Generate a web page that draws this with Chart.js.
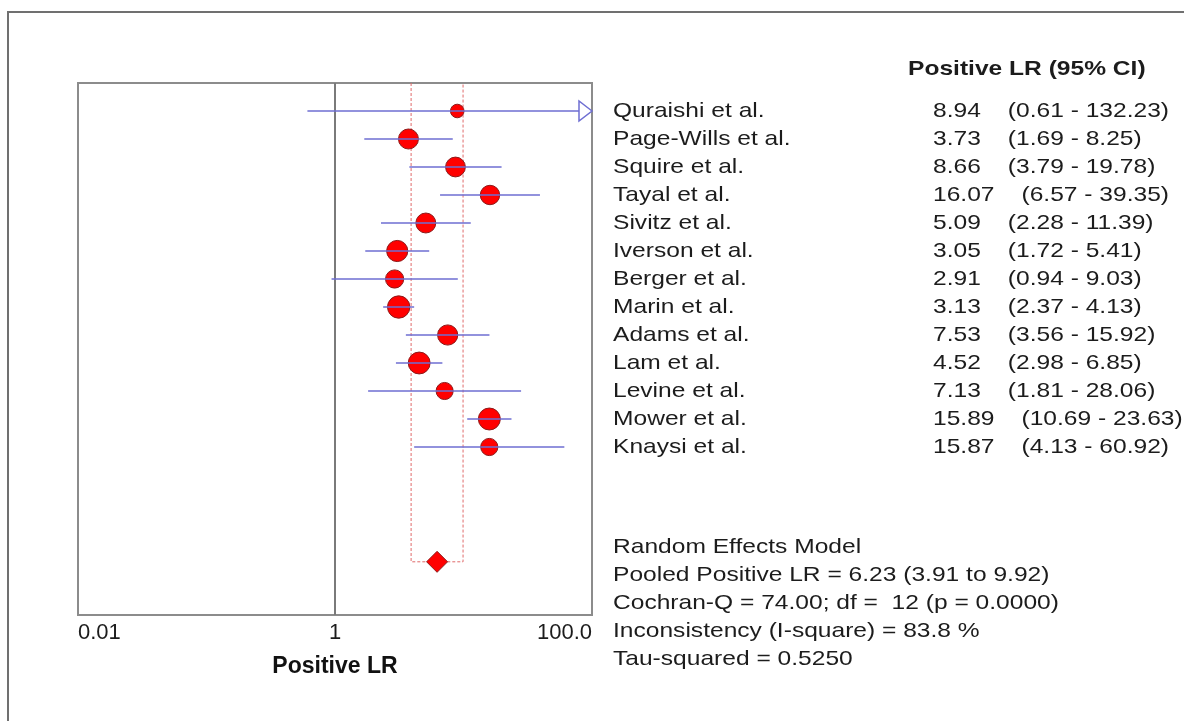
<!DOCTYPE html>
<html>
<head>
<meta charset="utf-8">
<title>Positive LR forest plot</title>
<script src="https://cdn.jsdelivr.net/npm/chart.js@4.4.1/dist/chart.umd.min.js"></script>
<style>
  html, body { margin: 0; padding: 0; background: #fff; }
  #wrap { position: relative; width: 1184px; height: 721px; overflow: hidden; }
  #frame { position: absolute; left: 7px; top: 11px; width: 2000px; height: 2000px;
           border-top: 2px solid #707070; border-left: 2px solid #707070; }
  canvas { position: absolute; left: 0; top: 0; }
</style>
</head>
<body>
<div id="wrap">
  <div id="frame"></div>
  <canvas id="forest" width="1184" height="721"></canvas>
</div>
<script>
// study data
const studies = ['Quraishi et al.', 'Page-Wills et al.', 'Squire et al.', 'Tayal et al.', 'Sivitz et al.',
  'Iverson et al.', 'Berger et al.', 'Marin et al.', 'Adams et al.', 'Lam et al.', 'Levine et al.',
  'Mower et al.', 'Knaysi et al.'];
const lrValues = [8.94, 3.73, 8.66, 16.07, 5.09, 3.05, 2.91, 3.13, 7.53, 4.52, 7.13, 15.89, 15.87];
const ciLower = [0.61, 1.69, 3.79, 6.57, 2.28, 1.72, 0.94, 2.37, 3.56, 2.98, 1.81, 10.69, 4.13];
const ciUpper = [132.23, 8.25, 19.78, 39.35, 11.39, 5.41, 9.03, 4.13, 15.92, 6.85, 28.06, 23.63, 60.92];

// pooled estimate (random effects)
const pooledLR = 6.23;
const pooledLower = 3.91;
const pooledUpper = 9.92;
const tauSquared = 0.5250;

const tickValues = [0.01, 1, 100];
const tickLabels = ['0.01', '1', '100.0'];
const axisTitle = 'Positive LR';
const tableHeader = 'Positive LR (95% CI)';
const summaryLines = [
  'Random Effects Model',
  'Pooled Positive LR = 6.23 (3.91 to 9.92)',
  'Cochran-Q = 74.00; df =  12 (p = 0.0000)',
  'Inconsistency (I-square) = 83.8 %',
  'Tau-squared = 0.5250'
];

// layout bits
const FONT = "'Liberation Sans', Arial, sans-serif";
const textStretch = 1.17;
const pooledRow = 17.1;
const summaryRow = 16.57;
const headerRow = -0.5;

// random effects weight -> marker size
function studyWeight(i) {
  const se = (Math.log(ciUpper[i]) - Math.log(ciLower[i])) / 3.92;
  return 1 / (se * se + tauSquared);
}
function markerSize(c) {
  return 5.5 + 3.1 * studyWeight(c.dataIndex);
}

const studyPoints = lrValues.map((v, i) => ({ x: v, y: i + 1 }));

function drawStretched(ctx, text, px, py) {
  ctx.save();
  ctx.translate(px, py);
  ctx.scale(textStretch, 1);
  ctx.fillText(text, 0, 0);
  ctx.restore();
}

const forestPlugin = {
  id: 'forest',
  beforeDatasetsDraw(chart) {
    const { ctx, chartArea: a, scales: { x, y } } = chart;
    ctx.save();
    // plot frame
    ctx.strokeStyle = '#8c8c8c';
    ctx.lineWidth = 2;
    ctx.strokeRect(a.left, a.top, a.right - a.left, a.bottom - a.top);
    // line of no effect
    const x1 = x.getPixelForValue(1);
    ctx.strokeStyle = '#7a7a7a';
    ctx.beginPath();
    ctx.moveTo(x1, a.top);
    ctx.lineTo(x1, a.bottom);
    ctx.stroke();
    // pooled confidence band
    const py = y.getPixelForValue(pooledRow);
    const lx = x.getPixelForValue(pooledLower);
    const hx = x.getPixelForValue(pooledUpper);
    ctx.strokeStyle = '#e06a6a';
    ctx.lineWidth = 1;
    ctx.setLineDash([3, 2]);
    ctx.beginPath();
    ctx.moveTo(lx, a.top);
    ctx.lineTo(lx, py);
    ctx.lineTo(hx, py);
    ctx.lineTo(hx, a.top);
    ctx.stroke();
    ctx.restore();
  },
  afterDatasetsDraw(chart) {
    const { ctx, chartArea: a, scales: { x, y } } = chart;
    ctx.save();
    ctx.strokeStyle = '#6e6ed2';
    ctx.lineWidth = 1.5;
    studies.forEach((s, i) => {
      const yy = y.getPixelForValue(i + 1);
      const lo = x.getPixelForValue(Math.max(ciLower[i], x.min));
      const hi = x.getPixelForValue(Math.min(ciUpper[i], x.max));
      ctx.beginPath();
      ctx.moveTo(lo, yy);
      ctx.lineTo(hi, yy);
      ctx.stroke();
      if (ciUpper[i] > x.max) {
        // open arrow where the interval runs off the scale
        ctx.fillStyle = '#fff';
        ctx.beginPath();
        ctx.moveTo(a.right, yy);
        ctx.lineTo(a.right - 13, yy - 10);
        ctx.lineTo(a.right - 13, yy + 10);
        ctx.closePath();
        ctx.fill();
        ctx.stroke();
      }
    });
    ctx.restore();
  },
  afterDraw(chart) {
    const { ctx, scales: { y } } = chart;
    ctx.save();
    ctx.fillStyle = '#1c1c1c';
    ctx.textBaseline = 'middle';
    ctx.textAlign = 'left';

    ctx.font = 'bold 21px ' + FONT;
    drawStretched(ctx, tableHeader, 908, y.getPixelForValue(headerRow));

    ctx.font = '21px ' + FONT;
    studies.forEach((s, i) => {
      const yy = y.getPixelForValue(i + 1);
      const val = lrValues[i].toFixed(2);
      drawStretched(ctx, s, 613, yy);
      drawStretched(ctx, val, 933, yy);
      const ciX = 933 + ctx.measureText(val).width * textStretch + 27;
      drawStretched(ctx, '(' + ciLower[i].toFixed(2) + ' - ' + ciUpper[i].toFixed(2) + ')', ciX, yy);
    });

    summaryLines.forEach((line, k) => {
      drawStretched(ctx, line, 613, y.getPixelForValue(summaryRow + k));
    });
    ctx.restore();
  }
};

new Chart(document.getElementById('forest'), {
  type: 'scatter',
  data: {
    datasets: [
      {
        data: studyPoints,
        pointRadius: markerSize,
        pointHoverRadius: markerSize,
        backgroundColor: '#ff0000',
        borderColor: '#8b1a1a',
        borderWidth: 1
      },
      {
        data: [{ x: pooledLR, y: pooledRow }],
        pointStyle: 'rectRot',
        pointRadius: 10.5,
        pointHoverRadius: 10.5,
        backgroundColor: '#ff0000',
        borderColor: '#8b1a1a',
        borderWidth: 1
      }
    ]
  },
  options: {
    responsive: false,
    animation: false,
    devicePixelRatio: 1,
    layout: { padding: { left: 78, top: 83, right: 592, bottom: 37 } },
    plugins: { legend: { display: false }, tooltip: { enabled: false } },
    scales: {
      x: {
        type: 'logarithmic',
        min: 0.01,
        max: 100,
        afterBuildTicks: scale => { scale.ticks = tickValues.map(v => ({ value: v })); },
        ticks: {
          callback: (v, i) => tickLabels[i],
          align: 'inner',
          autoSkip: false,
          maxRotation: 0,
          padding: 5,
          color: '#1c1c1c',
          font: { family: FONT, size: 22 }
        },
        grid: { display: false, drawTicks: false },
        border: { display: false },
        title: {
          display: true,
          text: axisTitle,
          color: '#111',
          padding: { top: 1, bottom: 4 },
          font: { family: FONT, size: 23, weight: 'bold' }
        }
      },
      y: { type: 'linear', min: 0, max: 19, reverse: true, display: false }
    }
  },
  plugins: [forestPlugin]
});
</script>
</body>
</html>
